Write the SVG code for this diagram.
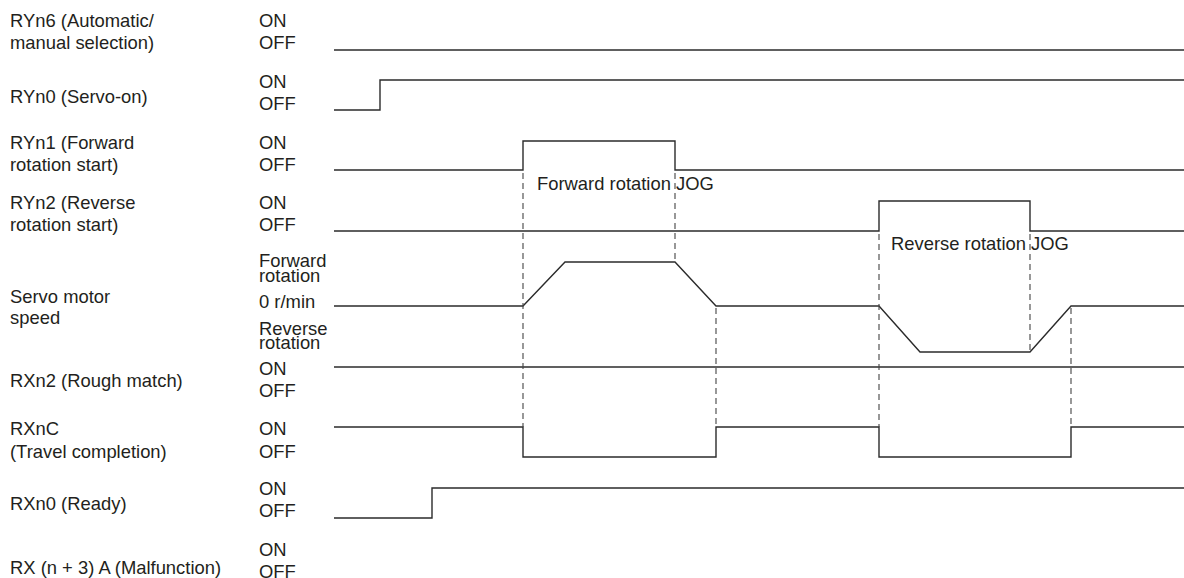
<svg xmlns="http://www.w3.org/2000/svg" width="1184" height="578" viewBox="0 0 1184 578">
<style>
text{font-family:"Liberation Sans",Arial,sans-serif;font-size:18.4px;fill:#231f20}
.sig{fill:none;stroke:#2b2b2b;stroke-width:1.4}
.dash{fill:none;stroke:#444;stroke-width:1.1;stroke-dasharray:6 4}
</style>
<rect width="1184" height="578" fill="#fff"/>
<g id="labels">
<g id="ryn6"><text x="10" y="27">RYn6 (Automatic/</text><text x="10" y="49">manual selection)</text><text x="259" y="27">ON</text><text x="259" y="49">OFF</text></g>
<g id="ryn0"><text x="10" y="103">RYn0 (Servo-on)</text><text x="259" y="88">ON</text><text x="259" y="110">OFF</text></g>
<g id="ryn1"><text x="10" y="149">RYn1 (Forward</text><text x="10" y="171">rotation start)</text><text x="259" y="149">ON</text><text x="259" y="171">OFF</text></g>
<g id="ryn2"><text x="10" y="209">RYn2 (Reverse</text><text x="10" y="231">rotation start)</text><text x="259" y="209">ON</text><text x="259" y="231">OFF</text></g>
<g id="speed"><text x="10" y="303">Servo motor</text><text x="10" y="324">speed</text><text x="259" y="267">Forward</text><text x="259" y="282">rotation</text><text x="259" y="308">0 r/min</text><text x="259" y="335">Reverse</text><text x="259" y="349">rotation</text></g>
<g id="rxn2"><text x="10" y="387">RXn2 (Rough match)</text><text x="259" y="375">ON</text><text x="259" y="397">OFF</text></g>
<g id="rxnc"><text x="10" y="435">RXnC</text><text x="10" y="458">(Travel completion)</text><text x="259" y="435">ON</text><text x="259" y="458">OFF</text></g>
<g id="rxn0"><text x="10" y="510">RXn0 (Ready)</text><text x="259" y="495">ON</text><text x="259" y="517">OFF</text></g>
<g id="rxn3a"><text x="10" y="574">RX (n + 3) A (Malfunction)</text><text x="259" y="556">ON</text><text x="259" y="578">OFF</text></g>
<g id="jog"><text x="537" y="190">Forward rotation JOG</text><text x="891" y="250">Reverse rotation JOG</text></g>
</g>
<g id="connectors">
<polyline class="sig" points="334,50 1184,50"/>
<polyline class="sig" points="334,110 380,110 380,80 1184,80"/>
<polyline class="sig" points="334,170 523,170 523,141 675,141 675,170 1184,170"/>
<polyline class="sig" points="334,231 879,231 879,201 1030,201 1030,231 1184,231"/>
<polyline class="sig" points="334,306 523,306 565,262 675,262 716,306 879,306 920,352 1030,352 1071,306 1184,306"/>
<polyline class="sig" points="334,367 1184,367"/>
<polyline class="sig" points="334,427 523,427 523,457 716,457 716,427 879,427 879,457 1071,457 1071,427 1184,427"/>
<polyline class="sig" points="334,518 432,518 432,488 1184,488"/>
<line class="dash" x1="523" y1="173" x2="523" y2="427"/>
<line class="dash" x1="675" y1="173" x2="675" y2="262"/>
<line class="dash" x1="716" y1="308" x2="716" y2="427"/>
<line class="dash" x1="879" y1="234" x2="879" y2="427"/>
<line class="dash" x1="1030" y1="234" x2="1030" y2="352"/>
<line class="dash" x1="1071" y1="308" x2="1071" y2="427"/>
</g>
</svg>
